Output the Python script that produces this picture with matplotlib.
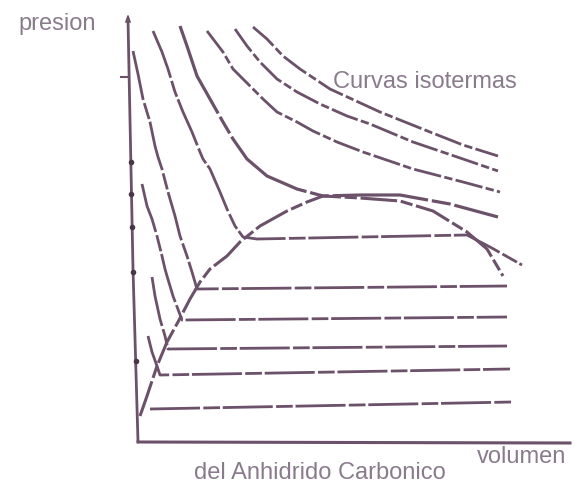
import numpy as np
import matplotlib
matplotlib.use("Agg")
import matplotlib.pyplot as plt

# isotermas del CO2 (diagrama de Andrews), volumen vs presion en unidades arbitrarias
ejeY_v = [-10, -5, 0]
ejeY_p = [422, 173, 0]
ejeX_v = [0, 432]
ejeX_p = [0, -1]
marcasY_p = [280, 248, 215, 170, 81]

# isoterma critica
crit_v = [42, 49, 59, 72, 85, 95, 109, 129, 159, 185, 222, 262, 312, 360]
crit_p = [416, 396, 366, 343, 320, 303, 283, 266, 253, 246, 247, 247, 238, 225]

# isotermas por encima de la critica
sup1_v = [69, 85, 95, 112, 125, 139, 159, 175, 199, 225, 275, 325, 362]
sup1_p = [411, 390, 373, 356, 343, 330, 320, 311, 300, 290, 273, 260, 250]
sup2_v = [97, 109, 122, 139, 159, 182, 209, 232, 275, 325, 360]
sup2_p = [413, 396, 380, 363, 350, 338, 326, 318, 300, 283, 271]
sup3_v = [115, 129, 145, 162, 192, 242, 292, 325, 360]
sup3_p = [415, 403, 386, 373, 353, 330, 310, 297, 286]

# isotermas por debajo de la critica: rama liquida + tramo horizontal
iso1_v = [15, 24, 30, 37, 45, 54, 62, 65, 72, 82, 89, 97, 105, 119, 329, 352, 384]
iso1_p = [411, 390, 373, 350, 330, 310, 290, 283, 273, 250, 233, 216, 205, 203, 207, 195, 177]
iso2_v = [-5, 0, 5, 12, 17, 20, 24, 30, 37, 42, 49, 54, 59, 369]
iso2_p = [391, 368, 343, 320, 296, 285, 273, 250, 226, 206, 186, 170, 153, 156]
iso3_v = [4, 9, 14, 19, 24, 27, 29, 35, 44, 369]
iso3_p = [258, 236, 223, 206, 186, 173, 166, 146, 122, 125]
iso4_v = [14, 17, 22, 27, 30, 369]
iso4_p = [165, 146, 123, 106, 93, 96]
iso5_v = [10, 14, 19, 22, 372]
iso5_p = [106, 90, 76, 67, 73]
iso6_v = [12, 374]
iso6_p = [33, 40]

# curva de saturacion (campana)
campana_v = [2, 9, 19, 29, 40, 52, 62, 72, 89, 102, 122, 149, 169, 185,
             222, 262, 295, 329, 349, 365]
campana_p = [26, 46, 76, 100, 120, 143, 160, 173, 186, 200, 216, 231, 240, 246,
             244, 241, 231, 210, 193, 166]

color = "#6b5169"
color_txt = "#8a7b8c"

fig = plt.figure(figsize=(5.87, 4.85), dpi=100)
ax = fig.add_axes([0, 0, 1, 1])
ax.set_xlim(-138, 449)
ax.set_ylim(-42, 443)
ax.axis("off")

# ejes dibujados a mano
ax.plot(ejeY_v, ejeY_p, color=color, lw=2.0, solid_capstyle="round")
ax.plot(ejeX_v, ejeX_p, color=color, lw=2.2)
ax.plot([-17, -9], [365, 365], color=color, lw=1.5)
ax.plot([-12, -10, -8], [420, 426, 420], color=color, lw=1.2)
ax.plot(np.interp(marcasY_p, ejeY_p[::-1], ejeY_v[::-1]), marcasY_p, "o",
        color="#4a3448", ms=3)

trazo = (0, (10, 1.2, 3, 1.2))
horiz = (0, (18, 1.2, 6, 1.0))

ax.plot(crit_v, crit_p, color=color, lw=2.3, linestyle=(0, (30, 1.2, 6, 1.2)))
for v, p in [(sup1_v, sup1_p), (sup2_v, sup2_p), (sup3_v, sup3_p)]:
    ax.plot(v, p, color=color, lw=2.0, linestyle=trazo)
for v, p in [(iso1_v, iso1_p), (iso2_v, iso2_p), (iso3_v, iso3_p),
             (iso4_v, iso4_p), (iso5_v, iso5_p), (iso6_v, iso6_p)]:
    ax.plot(v, p, color=color, lw=2.0, linestyle=horiz)
ax.plot(campana_v, campana_p, color=color, lw=2.2, linestyle=(0, (12, 1.2, 4, 1.2)))

fs = 17
ax.text(-120, 413, "presion", fontsize=fs, color=color_txt,
        family="Liberation Sans", va="baseline")
ax.text(195, 355, "Curvas isotermas", fontsize=fs, color=color_txt,
        family="Liberation Sans", va="baseline")
ax.text(339, -20, "volumen", fontsize=fs, color=color_txt,
        family="Liberation Sans", va="baseline")
ax.text(56, -36, "del Anhidrido Carbonico", fontsize=fs, color=color_txt,
        family="Liberation Sans", va="baseline")

fig.savefig("out.png", dpi=100)
